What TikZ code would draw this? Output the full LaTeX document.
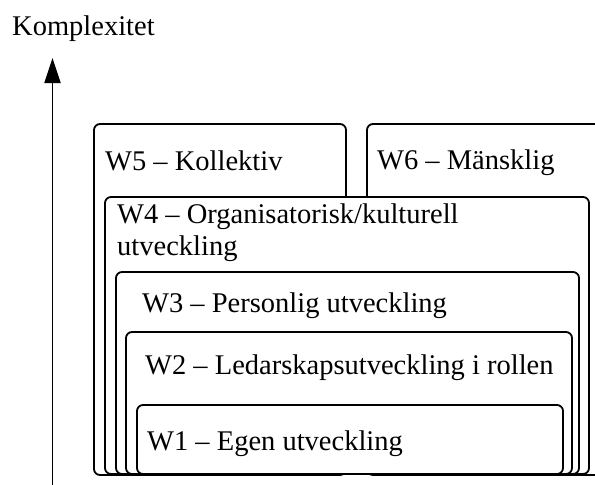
\documentclass[tikz,border=0pt]{standalone}
\usepackage{fontspec}
\setmainfont{Liberation Serif}
\usetikzlibrary{arrows.meta}
\begin{document}
\begin{tikzpicture}[x=1pt,y=-1pt,
  box/.style={draw,line width=1.8pt,rounded corners=6pt,fill=white},
  lbl/.style={anchor=base west,inner sep=0pt,align=left,font=\fontsize{28.5}{32}\selectfont}]
\useasboundingbox (0,0) rectangle (595,485);
\clip (0,0) rectangle (595,485);
\node[lbl] (komp) at (12,35) {Komplexitet};
\coordinate (bas) at (52.5,490);
\coordinate (topp) at (52.5,58);
\draw[line width=1.8pt,-{Triangle[length=25pt,width=16pt]}] (bas) -- (topp);
% the two top boxes
\draw[box] (94,124) rectangle (346,475);\node[lbl] (w5) at (105,170) {W5 – Kollektiv};
\draw[box] (367,124) rectangle (640,475);\node[lbl] (w6) at (377,169) {W6 – Mänsklig};
% nested boxes
\draw[box] (105,197) rectangle (589,474);\node[lbl] (w4) at (117,255) {W4 – Organisatorisk/kulturell\\utveckling};
\draw[box] (116,272) rectangle (579,474);\node[lbl] (w3) at (142,312) {W3 – Personlig utveckling};
\draw[box] (126,332) rectangle (572,474);\node[lbl] (w2) at (145,374) {W2 – Ledarskapsutveckling i rollen};
\draw[box] (137,405) rectangle (563,474);\node[lbl] (w1) at (147,450) {W1 – Egen utveckling};
\end{tikzpicture}
\end{document}
